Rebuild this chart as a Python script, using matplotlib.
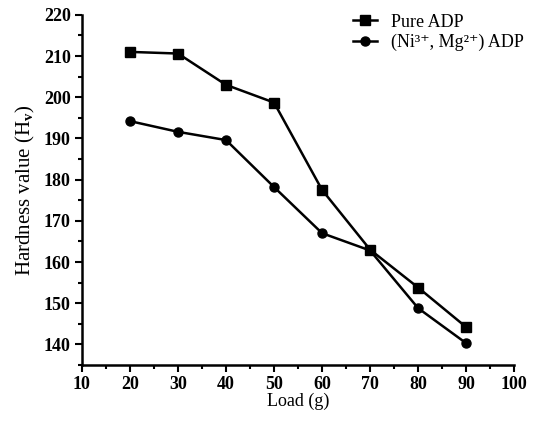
import matplotlib
matplotlib.use('Agg')
import matplotlib.pyplot as plt
import matplotlib.ticker as mticker

# data
load = [20, 30, 40, 50, 60, 70, 80, 90]
pure_adp = [211.0, 210.6, 203.0, 198.7, 177.5, 163.0, 153.8, 144.2]
doped_adp = [194.2, 191.6, 189.6, 178.2, 167.0, 162.8, 148.8, 140.3]

plt.rcParams.update({
    'font.family': ['Liberation Serif', 'DejaVu Serif'],
    'font.weight': 'bold',
    'mathtext.fontset': 'custom',
    'mathtext.rm': 'Liberation Serif',
    'mathtext.it': 'Liberation Serif:italic',
    'mathtext.bf': 'Liberation Serif:bold',
    'xtick.direction': 'out',
    'ytick.direction': 'out',
})

fig = plt.figure(figsize=(5.39, 4.23), dpi=100)
ax = fig.add_axes([0.152, 0.137, 0.802, 0.828])

ax.plot(load, pure_adp, color='black', lw=1.8, marker='s', ms=7, label='Pure ADP')
ax.plot(load, doped_adp, color='black', lw=1.8, marker='o', ms=6.5,
        label='(Ni\u00b3\u207a, Mg\u00b2\u207a) ADP')

ax.set_xlim(10, 100)
ax.set_ylim(135, 220)
ax.xaxis.set_major_locator(mticker.MultipleLocator(10))
ax.xaxis.set_minor_locator(mticker.MultipleLocator(5))
ax.yaxis.set_major_locator(mticker.FixedLocator(range(140, 221, 10)))
ax.yaxis.set_minor_locator(mticker.FixedLocator(range(135, 221, 5)))

ax.tick_params(which='major', length=5, width=1.5, labelsize=13, pad=3)
ax.tick_params(which='minor', length=3, width=1.5)
for s in ['top', 'right']:
    ax.spines[s].set_visible(False)
for s in ['left', 'bottom']:
    ax.spines[s].set_linewidth(1.8)

ax.set_xlabel('Load (g)', fontsize=13, fontweight='normal', labelpad=0)
ax.set_ylabel('Hardness value (H$_\\mathrm{v}$)', fontsize=15, fontweight='normal', labelpad=5)

ax.legend(loc='upper right', bbox_to_anchor=(1.06, 1.05), frameon=False,
          handlelength=1.3, handletextpad=0.8, labelspacing=0.2,
          prop={'family': ['Liberation Serif', 'DejaVu Serif'], 'weight': 'normal', 'size': 13})

fig.savefig('out.png', dpi=100, facecolor='white')
